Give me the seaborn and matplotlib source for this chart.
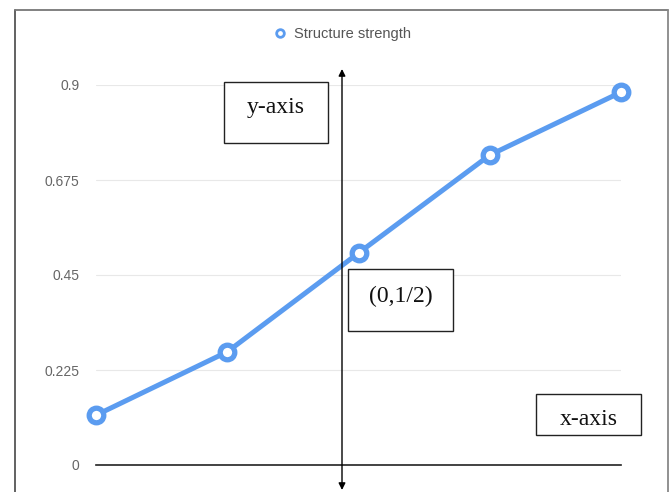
import matplotlib
matplotlib.use("Agg")
import matplotlib.pyplot as plt
from matplotlib.lines import Line2D
from matplotlib.patches import Rectangle, FancyArrowPatch
import seaborn as sns
import pandas as pd

# Data
x_values = [-2, -1, 0, 1, 2]
strength = [0.118, 0.268, 0.502, 0.734, 0.883]
series_name = "Structure strength"
y_ticks = [0, 0.225, 0.45, 0.675, 0.9]
y_tick_labels = ["0", "0.225", "0.45", "0.675", "0.9"]

sns.set_style("white")
plt.rcParams["font.family"] = ["Liberation Sans", "DejaVu Sans"]

W, H = 670, 492
fig = plt.figure(figsize=(W / 100, H / 100), dpi=100)


def fx(px):
    return px / W


def fy(py):
    return 1 - py / H


ax = fig.add_axes([fx(96), fy(465), fx(621) - fx(96), fy(85) - fy(465)])

df = pd.DataFrame({"x": x_values, "strength": strength})
blue = "#5b9cf0"
sns.lineplot(data=df, x="x", y="strength", ax=ax, color=blue, linewidth=3.6,
             marker="o", markersize=10.5, markeredgewidth=3.8,
             markerfacecolor="white", markeredgecolor=blue, clip_on=False,
             zorder=3, legend=False)

ax.set_xlim(x_values[0], x_values[-1])
ax.set_ylim(0, 0.9)
ax.set_yticks(y_ticks)
ax.set_yticklabels(y_tick_labels)
ax.set_xticks([])
ax.set_xlabel("")
ax.set_ylabel("")
ax.tick_params(axis="y", length=0, pad=12, labelsize=10, labelcolor="#666666")
ax.grid(axis="y", color="#e8e8e8", linewidth=0.8)
for side in ["top", "right", "left"]:
    ax.spines[side].set_visible(False)
ax.spines["bottom"].set_color("#222222")
ax.spines["bottom"].set_linewidth(1.2)
ax.spines["bottom"].set_zorder(4)

# Legend with a hollow circle marker only
handle = Line2D([], [], linestyle="none", marker="o", markersize=5.5,
                markerfacecolor="white", markeredgecolor=blue,
                markeredgewidth=2)
fig.legend([handle], [series_name], loc="center", bbox_to_anchor=(fx(342), fy(34)),
           frameon=False, fontsize=10.5, labelcolor="#555555",
           handlelength=1.0, handletextpad=0.5)

# Outer frame
fig.add_artist(Line2D([fx(15), fx(15)], [fy(10), 0], transform=fig.transFigure,
                      color="#555555", linewidth=1.3))
fig.add_artist(Line2D([fx(15), fx(668)], [fy(10), fy(10)], transform=fig.transFigure,
                      color="#777777", linewidth=1.3))
fig.add_artist(Line2D([fx(668), fx(668)], [fy(10), 0], transform=fig.transFigure,
                      color="#888888", linewidth=1.3))

# Vertical double-headed arrow
fig.add_artist(FancyArrowPatch((fx(342), fy(490)), (fx(342), fy(69)),
                               transform=fig.transFigure, arrowstyle="<|-|>",
                               mutation_scale=10, linewidth=1.0, color="black",
                               shrinkA=0, shrinkB=0, zorder=5))


def label_box(x0, y0, x1, y1, text, baseline):
    fig.add_artist(Rectangle((fx(x0), fy(y1)), fx(x1) - fx(x0), fy(y0) - fy(y1),
                             transform=fig.transFigure, facecolor="white",
                             edgecolor="#222222", linewidth=1.0, zorder=6))
    fig.text(fx((x0 + x1) / 2), fy(baseline), text,
             ha="center", va="baseline", fontsize=17,
             family=["Liberation Serif", "DejaVu Serif"], color="#111111",
             zorder=7)


label_box(224, 82, 328, 143, "y-axis", 113)
label_box(348, 269, 453, 331, "(0,1/2)", 302)
label_box(536, 394, 641, 435, "x-axis", 425)

fig.savefig("out.png", dpi=100)
